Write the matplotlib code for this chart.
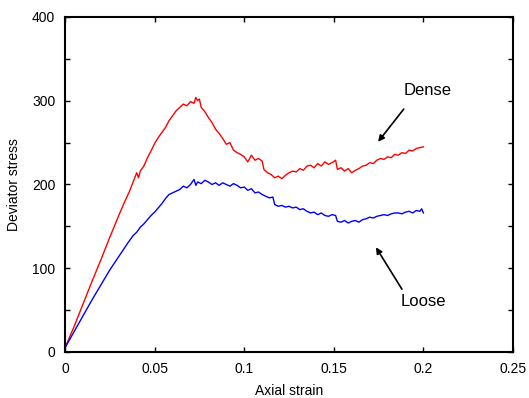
import numpy as np
import matplotlib.pyplot as plt
from matplotlib.ticker import MultipleLocator, FormatStrFormatter

plt.rcParams['font.family'] = ['Liberation Sans', 'DejaVu Sans']

# Dense specimen
dense_strain = [0, 0.005, 0.01, 0.015, 0.02, 0.025, 0.03, 0.033, 0.036, 0.038,
                0.040, 0.041, 0.042, 0.044, 0.046, 0.048, 0.050, 0.052, 0.054, 0.056,
                0.058, 0.060, 0.062, 0.064, 0.066, 0.068, 0.070, 0.072, 0.073, 0.074,
                0.075, 0.076, 0.078, 0.080, 0.082, 0.084, 0.086, 0.088, 0.090, 0.092,
                0.094, 0.096, 0.098, 0.100, 0.102, 0.104, 0.106, 0.108, 0.110, 0.111,
                0.113, 0.115, 0.117, 0.119, 0.121, 0.123, 0.125, 0.127, 0.129, 0.131,
                0.133, 0.135, 0.137, 0.139, 0.141, 0.143, 0.145, 0.147, 0.149, 0.151,
                0.152, 0.154, 0.156, 0.158, 0.160, 0.162, 0.164, 0.166, 0.168, 0.170,
                0.172, 0.174, 0.176, 0.178, 0.180, 0.182, 0.184, 0.186, 0.188, 0.190,
                0.192, 0.194, 0.196, 0.198, 0.200]
dense_stress = [5, 30, 57, 84, 110, 137, 163, 178, 192, 203,
                214, 208, 216, 222, 232, 240, 249, 256, 262, 268,
                276, 282, 288, 292, 296, 294, 299, 297, 304, 300,
                302, 292, 287, 280, 274, 266, 261, 255, 248, 250,
                241, 238, 236, 233, 227, 235, 229, 231, 228, 218,
                214, 212, 208, 210, 207, 211, 214, 216, 215, 219,
                217, 222, 223, 220, 225, 222, 227, 224, 226, 229,
                218, 220, 216, 219, 214, 217, 219, 222, 223, 226,
                225, 229, 231, 230, 233, 232, 236, 235, 238, 237,
                241, 240, 243, 244, 245]

# Loose specimen
loose_strain = [0, 0.005, 0.01, 0.015, 0.02, 0.025, 0.03, 0.035, 0.038, 0.040,
                0.042, 0.044, 0.046, 0.048, 0.050, 0.052, 0.054, 0.056, 0.058, 0.060,
                0.062, 0.064, 0.066, 0.068, 0.070, 0.072, 0.073, 0.074, 0.076, 0.078,
                0.080, 0.082, 0.084, 0.086, 0.088, 0.090, 0.092, 0.094, 0.096, 0.098,
                0.100, 0.102, 0.104, 0.106, 0.108, 0.110, 0.112, 0.114, 0.116, 0.117,
                0.119, 0.121, 0.123, 0.125, 0.127, 0.129, 0.131, 0.133, 0.135, 0.137,
                0.139, 0.141, 0.143, 0.145, 0.147, 0.149, 0.151, 0.152, 0.154, 0.156,
                0.158, 0.160, 0.162, 0.164, 0.166, 0.168, 0.170, 0.172, 0.174, 0.176,
                0.178, 0.180, 0.182, 0.184, 0.186, 0.188, 0.190, 0.192, 0.194, 0.196,
                0.198, 0.199, 0.200]
loose_stress = [5, 24, 43, 62, 80, 98, 114, 130, 139, 143,
                149, 153, 158, 163, 167, 172, 177, 183, 188, 190,
                192, 194, 198, 196, 200, 206, 199, 203, 201, 205,
                203, 200, 202, 199, 202, 200, 198, 201, 199, 196,
                197, 193, 195, 190, 191, 188, 186, 184, 185, 176,
                174, 175, 173, 174, 172, 173, 170, 171, 168, 166,
                167, 164, 166, 163, 162, 164, 163, 156, 155, 157,
                154, 156, 157, 155, 158, 159, 161, 160, 162, 163,
                164, 163, 165, 166, 166, 165, 167, 168, 166, 169,
                168, 171, 166]

fig = plt.figure(figsize=(5.29, 3.98), dpi=100)
ax = fig.add_axes([0.1229, 0.1156, 0.8469, 0.8417])

ax.plot(dense_strain, dense_stress, color='red', linewidth=1.0)
ax.plot(loose_strain, loose_stress, color='blue', linewidth=1.0)

ax.set_xlim(0, 0.25)
ax.set_ylim(0, 400)
ax.xaxis.set_major_locator(MultipleLocator(0.05))
ax.xaxis.set_major_formatter(FormatStrFormatter('%g'))
ax.yaxis.set_major_locator(MultipleLocator(100))
ax.yaxis.set_minor_locator(MultipleLocator(50))

ax.tick_params(which='both', direction='in', top=True, right=True,
               length=3.5, width=1.0, labelsize=10, pad=7)
for s in ax.spines.values():
    s.set_linewidth(1.5)

ax.set_xlabel('Axial strain', fontsize=10, labelpad=6)
ax.set_ylabel('Deviator stress', fontsize=10, labelpad=8)

ax.annotate('', xy=(0.1747, 251), xytext=(0.189, 290),
            arrowprops=dict(arrowstyle='-|>', color='black', lw=1.2,
                            mutation_scale=9, shrinkA=0, shrinkB=0))
ax.text(0.2026, 312, 'Dense', fontsize=12, ha='center', va='center')
ax.annotate('', xy=(0.1735, 125), xytext=(0.188, 75),
            arrowprops=dict(arrowstyle='-|>', color='black', lw=1.2,
                            mutation_scale=9, shrinkA=0, shrinkB=0))
ax.text(0.1998, 60, 'Loose', fontsize=12, ha='center', va='center')

fig.savefig('out.png', dpi=100)
